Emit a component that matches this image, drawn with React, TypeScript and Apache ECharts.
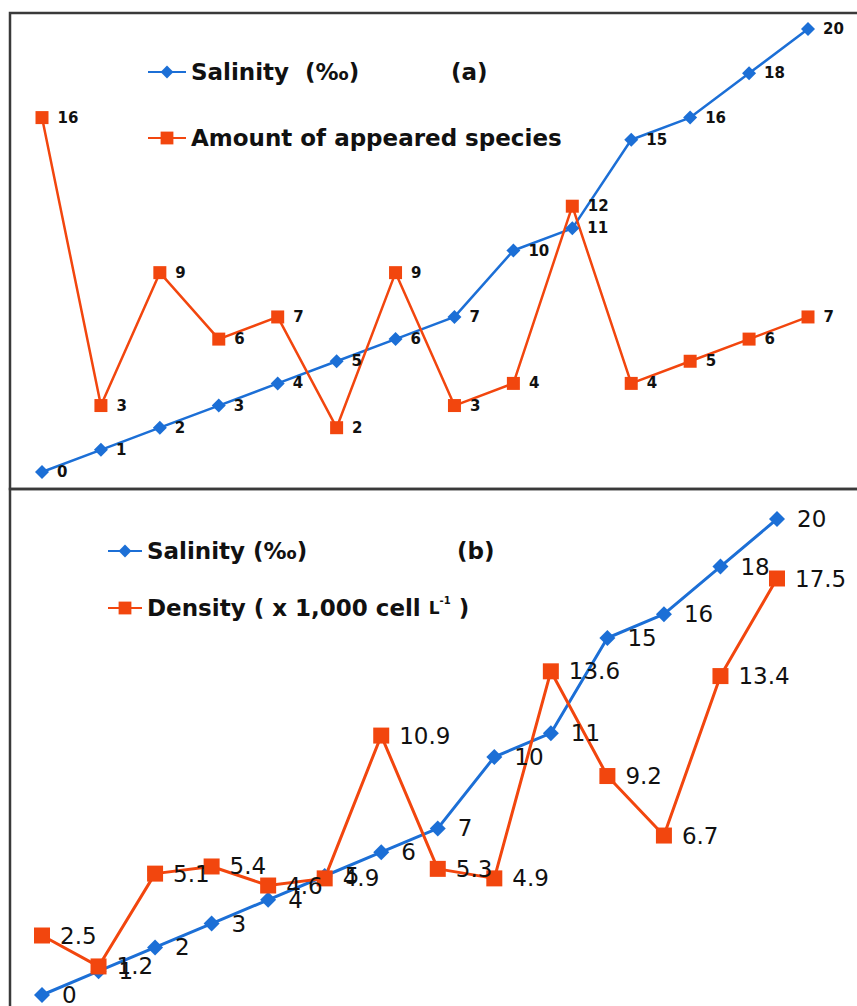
import React, { useEffect, useRef } from "react";
import * as echarts from "echarts";

const samples = ["1", "2", "3", "4", "5", "6", "7", "8", "9", "10", "11", "12", "13", "14"];
const salinityA = [0, 1, 2, 3, 4, 5, 6, 7, 10, 11, 15, 16, 18, 20];
const speciesA = [16, 3, 9, 6, 7, 2, 9, 3, 4, 12, 4, 5, 6, 7];
const salinityB = [0, 1, 2, 3, 4, 5, 6, 7, 10, 11, 15, 16, 18, 20];
const densityB = [2.5, 1.2, 5.1, 5.4, 4.6, 4.9, 10.9, 5.3, 4.9, 13.6, 9.2, 6.7, 13.4, 17.5];

const nameSalA = "Salinity  (‰)";
const nameSpecies = "Amount of appeared species";
const nameSalB = "Salinity (‰)";
const nameDensity = "Density";

const BLUE = "#1c6fd6";
const ORANGE = "#f2460e";
const FONT = "Verdana, 'DejaVu Sans', sans-serif";

export default function App() {
  const ref = useRef<HTMLDivElement>(null);
  useEffect(() => {
    if (!ref.current) return;
    const chart = echarts.init(ref.current, null, { renderer: "svg" });
    const legendText = { fontFamily: FONT, fontWeight: "bold", fontSize: 23, color: "#111", lineHeight: 26 };
    chart.setOption({
      animation: false,
      backgroundColor: "#fff",
      grid: [
        { left: 42, top: 29, width: 766, height: 443 },
        { left: 42, top: 519, width: 735, height: 476 },
      ],
      xAxis: [
        { type: "category", gridIndex: 0, data: samples, boundaryGap: false, show: false },
        { type: "category", gridIndex: 1, data: samples, boundaryGap: false, show: false },
      ],
      yAxis: [
        { type: "value", gridIndex: 0, min: 0, max: 20, show: false, splitLine: { show: false } },
        { type: "value", gridIndex: 1, min: 0, max: 20, show: false, splitLine: { show: false } },
      ],
      legend: [
        { data: [nameSalA], left: 147, top: 59, padding: 0, itemWidth: 38, itemHeight: 16, textStyle: legendText, selectedMode: false },
        { data: [nameSpecies], left: 147, top: 125, padding: 0, itemWidth: 38, itemHeight: 16, textStyle: legendText, selectedMode: false },
        { data: [nameSalB], left: 107, top: 538, padding: 0, itemWidth: 34, itemHeight: 16, textStyle: legendText, selectedMode: false },
        {
          data: [nameDensity], left: 107, top: 595, padding: 0, itemWidth: 34, itemHeight: 16, selectedMode: false,
          textStyle: {
            ...legendText,
            rich: {
              s: { fontFamily: FONT, fontWeight: "bold", fontSize: 17, color: "#111", lineHeight: 26 },
              sup: { fontFamily: FONT, fontWeight: "bold", fontSize: 10, color: "#111", verticalAlign: "top", lineHeight: 26, padding: [0, 0, 8, 0] },
            },
          },
          formatter: () => "Density ( x 1,000 cell {s|L}{sup|-1} )",
        },
      ],
      graphic: [
        { type: "rect", z: -1, shape: { x: 10, y: 13, width: 870, height: 476 }, style: { fill: "none", stroke: "#3a3a3a", lineWidth: 2.5 } },
        { type: "rect", z: -1, shape: { x: 10, y: 489, width: 870, height: 540 }, style: { fill: "none", stroke: "#3a3a3a", lineWidth: 2.5 } },
        { type: "text", x: 451, y: 60, style: { text: "(a)", font: "bold 23px " + FONT, fill: "#111" } },
        { type: "text", x: 457, y: 539, style: { text: "(b)", font: "bold 23px " + FONT, fill: "#111" } },
      ],
      series: [
        {
          name: nameSalA, type: "line", xAxisIndex: 0, yAxisIndex: 0, data: salinityA,
          symbol: "diamond", symbolSize: 14, color: BLUE, lineStyle: { width: 2.5, color: BLUE },
          label: { show: true, position: "right", distance: 8, fontFamily: FONT, fontWeight: "bold", fontSize: 15, color: "#111" },
        },
        {
          name: nameSpecies, type: "line", xAxisIndex: 0, yAxisIndex: 0, data: speciesA,
          symbol: "rect", symbolSize: 13, color: ORANGE, lineStyle: { width: 2.5, color: ORANGE },
          label: { show: true, position: "right", distance: 9, fontFamily: FONT, fontWeight: "bold", fontSize: 15, color: "#111" },
        },
        {
          name: nameSalB, type: "line", xAxisIndex: 1, yAxisIndex: 1, data: salinityB,
          symbol: "diamond", symbolSize: 16, color: BLUE, lineStyle: { width: 3, color: BLUE },
          label: { show: true, position: "right", distance: 12, fontFamily: FONT, fontSize: 23, color: "#111" },
        },
        {
          name: nameDensity, type: "line", xAxisIndex: 1, yAxisIndex: 1, data: densityB,
          symbol: "rect", symbolSize: 16, color: ORANGE, lineStyle: { width: 3, color: ORANGE },
          label: { show: true, position: "right", distance: 10, fontFamily: FONT, fontSize: 23, color: "#111" },
        },
      ],
    });
    return () => chart.dispose();
  }, []);
  return (
    <div
      ref={ref}
      style={{ position: "fixed", left: 0, top: 0, width: 857, height: 1006, background: "#fff" }}
    />
  );
}
